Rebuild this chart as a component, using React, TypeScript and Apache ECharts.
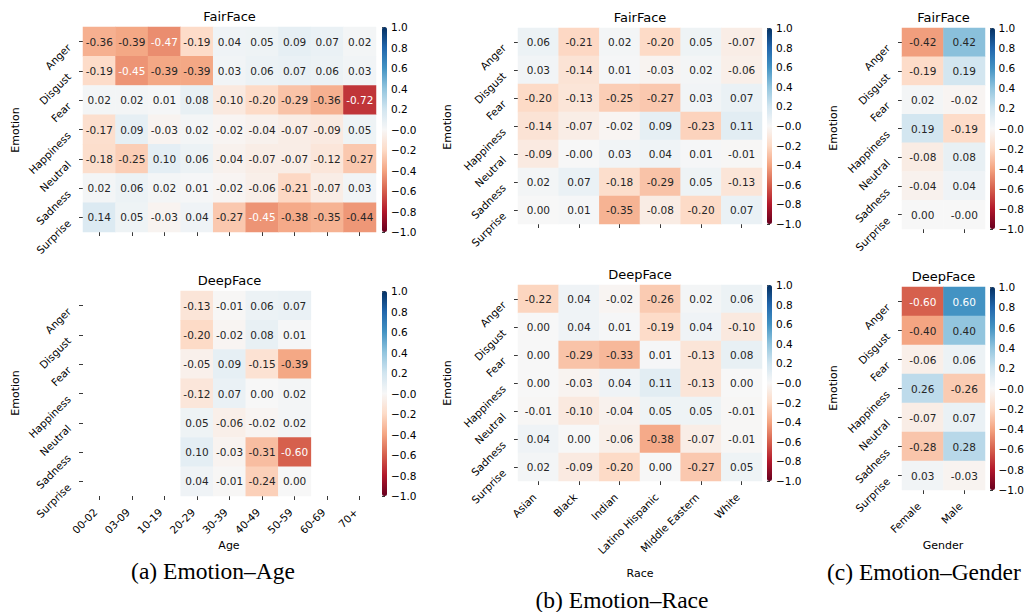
import React, { useEffect, useRef } from "react";
import * as echarts from "echarts";

// ---------------- data ----------------
const emotions = ["Anger", "Disgust", "Fear", "Happiness", "Neutral", "Sadness", "Surprise"];
const ageGroups = ["00-02", "03-09", "10-19", "20-29", "30-39", "40-49", "50-59", "60-69", "70+"];
const races = ["Asian", "Black", "Indian", "Latino Hispanic", "Middle Eastern", "White"];
const genders = ["Female", "Male"];

const ageFairFace = [
  [-0.36, -0.39, -0.47, -0.19, 0.04, 0.05, 0.09, 0.07, 0.02],
  [-0.19, -0.45, -0.39, -0.39, 0.03, 0.06, 0.07, 0.06, 0.03],
  [0.02, 0.02, 0.01, 0.08, -0.1, -0.2, -0.29, -0.36, -0.72],
  [-0.17, 0.09, -0.03, 0.02, -0.02, -0.04, -0.07, -0.09, 0.05],
  [-0.18, -0.25, 0.1, 0.06, -0.04, -0.07, -0.07, -0.12, -0.27],
  [0.02, 0.06, 0.02, 0.01, -0.02, -0.06, -0.21, -0.07, 0.03],
  [0.14, 0.05, -0.03, 0.04, -0.27, -0.45, -0.38, -0.35, -0.44],
];
const ageDeepFace = [
  [null, null, null, -0.13, -0.01, 0.06, 0.07, null, null],
  [null, null, null, -0.2, -0.02, 0.08, 0.01, null, null],
  [null, null, null, -0.05, 0.09, -0.15, -0.39, null, null],
  [null, null, null, -0.12, 0.07, 0.0, 0.02, null, null],
  [null, null, null, 0.05, -0.06, -0.02, 0.02, null, null],
  [null, null, null, 0.1, -0.03, -0.31, -0.6, null, null],
  [null, null, null, 0.04, -0.01, -0.24, 0.0, null, null],
];
const raceFairFace = [
  [0.06, -0.21, 0.02, -0.2, 0.05, -0.07],
  [0.03, -0.14, 0.01, -0.03, 0.02, -0.06],
  [-0.2, -0.13, -0.25, -0.27, 0.03, 0.07],
  [-0.14, -0.07, -0.02, 0.09, -0.23, 0.11],
  [-0.09, -0, 0.03, 0.04, 0.01, -0.01],
  [0.02, 0.07, -0.18, -0.29, 0.05, -0.13],
  [0.0, 0.01, -0.35, -0.08, -0.2, 0.07],
];
const raceDeepFace = [
  [-0.22, 0.04, -0.02, -0.26, 0.02, 0.06],
  [0.0, 0.04, 0.01, -0.19, 0.04, -0.1],
  [0.0, -0.29, -0.33, 0.01, -0.13, 0.08],
  [0.0, -0.03, 0.04, 0.11, -0.13, 0.0],
  [-0.01, -0.1, -0.04, 0.05, 0.05, -0.01],
  [0.04, 0.0, -0.06, -0.38, -0.07, -0.01],
  [0.02, -0.09, -0.2, 0.0, -0.27, 0.05],
];
const genderFairFace = [
  [-0.42, 0.42],
  [-0.19, 0.19],
  [0.02, -0.02],
  [0.19, -0.19],
  [-0.08, 0.08],
  [-0.04, 0.04],
  [0.0, -0],
];
const genderDeepFace = [
  [-0.6, 0.6],
  [-0.4, 0.4],
  [-0.06, 0.06],
  [0.26, -0.26],
  [-0.07, 0.07],
  [-0.28, 0.28],
  [0.03, -0.03],
];
const colorbarTicks = ["\u22121.0", "\u22120.8", "\u22120.6", "\u22120.4", "\u22120.2", "\u22120.0", "0.2", "0.4", "0.6", "0.8", "1.0"];

// ---------------- styles ----------------
const RDBU = ["#67001f", "#b2182b", "#d6604d", "#f4a582", "#fddbc7", "#f7f7f7", "#d1e5f0", "#92c5de", "#4393c3", "#2166ac", "#053061"];
const FONT = "DejaVu Sans";

function hexRgb(h: string) {
  return [parseInt(h.slice(1, 3), 16), parseInt(h.slice(3, 5), 16), parseInt(h.slice(5, 7), 16)];
}
function cmap(v: number) {
  const p = Math.min(1, Math.max(0, (v + 1) / 2)) * (RDBU.length - 1);
  const i = Math.min(RDBU.length - 2, Math.floor(p));
  const t = p - i;
  const a = hexRgb(RDBU[i]);
  const b = hexRgb(RDBU[i + 1]);
  return a.map((c, k) => c + (b[k] - c) * t);
}
function textColor(v: number) {
  const lin = cmap(v).map((c) => {
    const s = c / 255;
    return s <= 0.03928 ? s / 12.92 : Math.pow((s + 0.055) / 1.055, 2.4);
  });
  const lum = 0.2126 * lin[0] + 0.7152 * lin[1] + 0.0722 * lin[2];
  return lum > 0.408 ? "#262626" : "#ffffff";
}
function fmt(v: number) {
  if (Object.is(v, -0)) return "-0.00";
  return v.toFixed(2);
}

type Panel = {
  title: string;
  cols: string[];
  values: (number | null)[][];
  grid: { left: number; top: number; width: number; height: number };
  cbarLeft: number;
  showX: boolean;
};

const panels: Panel[] = [
  { title: "FairFace", cols: ageGroups, values: ageFairFace, grid: { left: 83, top: 27, width: 293, height: 205 }, cbarLeft: 382, showX: false },
  { title: "DeepFace", cols: ageGroups, values: ageDeepFace, grid: { left: 83, top: 291, width: 293, height: 205 }, cbarLeft: 382, showX: true },
  { title: "FairFace", cols: races, values: raceFairFace, grid: { left: 518, top: 28, width: 244, height: 196 }, cbarLeft: 767, showX: false },
  { title: "DeepFace", cols: races, values: raceDeepFace, grid: { left: 518, top: 285, width: 244, height: 196 }, cbarLeft: 767, showX: true },
  { title: "FairFace", cols: genders, values: genderFairFace, grid: { left: 902, top: 28, width: 83, height: 201 }, cbarLeft: 990, showX: false },
  { title: "DeepFace", cols: genders, values: genderDeepFace, grid: { left: 902, top: 287, width: 83, height: 203 }, cbarLeft: 990, showX: true },
];

function buildOption() {
  const grid: any[] = [];
  const xAxis: any[] = [];
  const yAxis: any[] = [];
  const series: any[] = [];
  const visualMap: any[] = [];
  const graphic: any[] = [];
  const tickStyle = { show: true, length: 4, inside: false, alignWithLabel: true, lineStyle: { color: "#222", width: 0.9 } };

  panels.forEach((p, i) => {
    grid.push({ ...p.grid });
    xAxis.push({
      type: "category",
      gridIndex: i,
      data: p.cols,
      position: "bottom",
      axisLine: { show: false },
      axisTick: tickStyle,
      splitLine: { show: false },
      axisLabel: { show: p.showX, rotate: 45, margin: 18, verticalAlign: "bottom", fontSize: 10.5, color: "#000", fontFamily: FONT, interval: 0 },
    });
    yAxis.push({
      type: "category",
      gridIndex: i,
      data: emotions,
      inverse: true,
      axisLine: { show: false },
      axisTick: tickStyle,
      splitLine: { show: false },
      axisLabel: { rotate: 45, margin: 18, verticalAlign: "top", fontSize: 10.5, color: "#000", fontFamily: FONT, interval: 0 },
    });
    const data: any[] = [];
    p.values.forEach((row, r) =>
      row.forEach((v, c) => {
        if (v === null) return;
        data.push({ value: [c, r, v], label: { formatter: fmt(v), color: textColor(v) } });
      })
    );
    series.push({
      type: "heatmap",
      xAxisIndex: i,
      yAxisIndex: i,
      data,
      label: { show: true, fontSize: 10.5, fontFamily: FONT },
      itemStyle: { borderWidth: 0 },
      emphasis: { disabled: true },
      silent: true,
    });
    visualMap.push({
      type: "continuous",
      seriesIndex: i,
      dimension: 2,
      min: -1,
      max: 1,
      orient: "vertical",
      left: p.cbarLeft,
      top: p.grid.top,
      itemWidth: 5,
      itemHeight: p.grid.height,
      padding: 0,
      calculable: false,
      hoverLink: false,
      realtime: false,
      inRange: { color: RDBU },
    });
    graphic.push({
      type: "text",
      x: p.grid.left + p.grid.width / 2,
      y: p.grid.top - 11,
      style: { text: p.title, fontSize: 13, fontFamily: FONT, fill: "#000", align: "center", verticalAlign: "middle" },
    });
  });

  // colorbar axes
  panels.forEach((p, i) => {
    const gi = panels.length + i;
    grid.push({ left: p.cbarLeft, top: p.grid.top, width: 5, height: p.grid.height });
    xAxis.push({ type: "value", gridIndex: gi, show: false, min: 0, max: 1 });
    yAxis.push({
      type: "value",
      gridIndex: gi,
      min: -1,
      max: 1,
      interval: 0.2,
      position: "right",
      axisLine: { show: false },
      splitLine: { show: false },
      axisTick: { show: true, length: 3, lineStyle: { color: "#222", width: 0.9 } },
      axisLabel: {
        margin: 4,
        fontSize: 10.5,
        color: "#000",
        fontFamily: FONT,
        formatter: (v: number) => colorbarTicks[Math.round((v + 1) / 0.2)],
      },
    });
  });

  const txt = (text: string, x: number, y: number, extra: any = {}) => ({
    type: "text",
    x,
    y,
    rotation: extra.rotation || 0,
    style: {
      text,
      fontSize: extra.fontSize || 11,
      fontFamily: extra.fontFamily || FONT,
      fill: "#000",
      align: extra.align || "center",
      verticalAlign: "middle",
    },
  });
  const R = Math.PI / 2;
  graphic.push(txt("Emotion", 15, 130, { rotation: R }));
  graphic.push(txt("Emotion", 15, 393, { rotation: R }));
  graphic.push(txt("Emotion", 447, 127, { rotation: R }));
  graphic.push(txt("Emotion", 447, 383, { rotation: R }));
  graphic.push(txt("Emotion", 833, 128, { rotation: R }));
  graphic.push(txt("Emotion", 833, 388, { rotation: R }));
  graphic.push(txt("Age", 229, 545));
  graphic.push(txt("Race", 640, 573));
  graphic.push(txt("Gender", 943, 545));
  const cap = { fontSize: 23.5, fontFamily: "Liberation Serif" };
  graphic.push(txt("(a) Emotion\u2013Age", 213, 571, cap));
  graphic.push(txt("(b) Emotion\u2013Race", 622, 600, cap));
  graphic.push(txt("(c) Emotion\u2013Gender", 827, 572, { ...cap, align: "left" }));

  return {
    animation: false,
    backgroundColor: "#ffffff",
    textStyle: { fontFamily: FONT },
    grid,
    xAxis,
    yAxis,
    visualMap,
    series,
    graphic,
  };
}

export default function App() {
  const ref = useRef<HTMLDivElement>(null);
  useEffect(() => {
    if (!ref.current) return;
    const chart = echarts.init(ref.current, null, { renderer: "svg" });
    chart.setOption(buildOption() as any);
    return () => chart.dispose();
  }, []);
  return (
    <div
      ref={ref}
      style={{ position: "fixed", left: 0, top: 0, width: 1027, height: 612, background: "#fff" }}
    />
  );
}
